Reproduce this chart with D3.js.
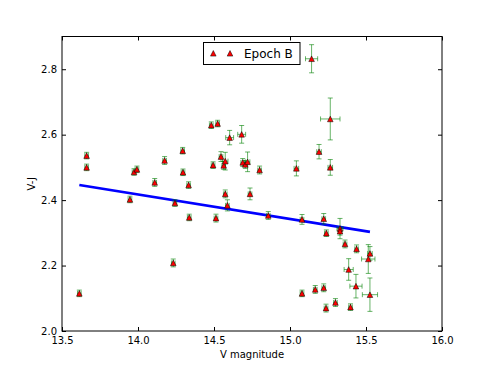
<!DOCTYPE html>
<html>
<head>
<meta charset="utf-8">
<script src="https://cdn.jsdelivr.net/npm/d3@7"></script>
<style>
  body { margin: 0; background: #fff; }
  text { font-family: "DejaVu Sans", sans-serif; }
</style>
</head>
<body>
<div id="chart"></div>
<script>
// Width and height
var chart_width  = 491;
var chart_height = 368;

// Epoch B measurements
var vMag  = [13.614, 13.662, 13.662, 13.947, 13.974, 13.993, 14.110, 14.175, 14.232, 14.243,
             14.294, 14.296, 14.333, 14.337, 14.482, 14.524, 14.494, 14.513, 14.546, 14.564,
             14.574, 14.574, 14.588, 14.603, 14.682, 14.689, 14.706, 14.721, 14.737, 14.800,
             14.857, 15.042, 15.079, 15.079, 15.142, 15.166, 15.191, 15.222, 15.222, 15.239,
             15.237, 15.265, 15.265, 15.299, 15.329, 15.329, 15.362, 15.386, 15.398, 15.434,
             15.438, 15.515, 15.526, 15.526];
var vj    = [2.115, 2.536, 2.500, 2.402, 2.486, 2.494, 2.454, 2.521, 2.208, 2.391,
             2.551, 2.485, 2.446, 2.347, 2.629, 2.634, 2.507, 2.345, 2.533, 2.506,
             2.519, 2.419, 2.384, 2.591, 2.601, 2.515, 2.509, 2.517, 2.419, 2.492,
             2.353, 2.497, 2.341, 2.115, 2.832, 2.127, 2.548, 2.343, 2.132, 2.299,
             2.070, 2.648, 2.500, 2.087, 2.313, 2.305, 2.266, 2.188, 2.073, 2.137,
             2.251, 2.220, 2.237, 2.111];
var vErr  = [.012, .012, .012, .012, .012, .012, .012, .012, .012, .012,
             .012, .012, .012, .012, .012, .012, .012, .012, .012, .012,
             .018, .012, .012, .026, .026, .012, .012, .015, .012, .012,
             .012, .015, .012, .012, .040, .012, .015, .012, .012, .012,
             .012, .064, .015, .012, .020, .012, .012, .030, .012, .040,
             .012, .044, .015, .050];
var vjErr = [.010, .010, .010, .010, .010, .010, .012, .012, .012, .010,
             .010, .010, .010, .010, .010, .010, .010, .012, .015, .012,
             .027, .012, .017, .022, .027, .012, .012, .030, .018, .012,
             .012, .023, .015, .010, .043, .012, .022, .016, .012, .010,
             .012, .064, .024, .012, .031, .012, .012, .033, .010, .036,
             .012, .044, .021, .051];

// linear fit end points
var fitV  = [13.614, 15.526];
var fitVJ = [2.446, 2.303];

var xTicks = [13.5, 14.0, 14.5, 15.0, 15.5, 16.0];
var yTicks = [2.0, 2.2, 2.4, 2.6, 2.8];

var points = vMag.map(function(v, i){
    return {v: v, vj: vj[i], ev: vErr[i], evj: vjErr[i]};
});

var pLeft = 62, pRight = 442, pTop = 36.5, pBottom = 331;

var x = d3.scaleLinear().domain([13.5, 16.0]).range([pLeft, pRight]);
var y = d3.scaleLinear().domain([2.0, 2.9]).range([pBottom, pTop]);

var svg = d3.select("#chart")
    .append("svg")
    .attr("width", chart_width)
    .attr("height", chart_height);

// axes, ticks pointing inwards on all four sides
var fmt = d3.format(".1f");
function styleAxis(g){
    g.select(".domain").remove();
    g.selectAll("line").attr("stroke", "#000");
    g.selectAll("text").attr("fill", "#000").style("font-size", "10px");
}
svg.append("g").attr("transform", "translate(0," + pBottom + ")")
    .call(d3.axisBottom(x).tickValues(xTicks).tickFormat(fmt).tickSize(-4).tickPadding(6))
    .call(styleAxis);
svg.append("g").attr("transform", "translate(0," + pTop + ")")
    .call(d3.axisTop(x).tickValues(xTicks).tickFormat("").tickSize(-4))
    .call(styleAxis);
svg.append("g").attr("transform", "translate(" + pLeft + ",0)")
    .call(d3.axisLeft(y).tickValues(yTicks).tickFormat(fmt).tickSize(-4).tickPadding(5))
    .call(styleAxis);
svg.append("g").attr("transform", "translate(" + pRight + ",0)")
    .call(d3.axisRight(y).tickValues(yTicks).tickFormat("").tickSize(-4))
    .call(styleAxis);

svg.append("rect")
    .attr("x", pLeft).attr("y", pTop)
    .attr("width", pRight - pLeft).attr("height", pBottom - pTop)
    .attr("fill", "none").attr("stroke", "#000").attr("stroke-width", 1);

// fit line
svg.append("path")
    .datum(fitV.map(function(v, i){ return [v, fitVJ[i]]; }))
    .attr("d", d3.line().x(function(d){ return x(d[0]); }).y(function(d){ return y(d[1]); }))
    .attr("fill", "none")
    .attr("stroke", "#0000ff")
    .attr("stroke-width", 2.6);

// error bars
var cap = 2.5;
svg.append("g")
    .attr("stroke", "rgb(0,128,0)")
    .attr("stroke-opacity", 0.6)
    .attr("stroke-width", 1)
    .selectAll("path")
    .data(points)
    .enter()
    .append("path")
    .attr("fill", "none")
    .attr("d", function(d){
        var cx = x(d.v), cy = y(d.vj);
        var y0 = y(d.vj - d.evj), y1 = y(d.vj + d.evj);
        var x0 = x(d.v - d.ev), x1 = x(d.v + d.ev);
        return "M" + cx + "," + y0 + "V" + y1 +
               "M" + (cx - cap) + "," + y0 + "H" + (cx + cap) +
               "M" + (cx - cap) + "," + y1 + "H" + (cx + cap) +
               "M" + x0 + "," + cy + "H" + x1 +
               "M" + x0 + "," + (cy - cap) + "V" + (cy + cap) +
               "M" + x1 + "," + (cy - cap) + "V" + (cy + cap);
    });

// triangle markers
var tri = "M0,-2.8L2.8,2.8L-2.8,2.8Z";
svg.append("g")
    .selectAll("path")
    .data(points)
    .enter()
    .append("path")
    .attr("d", tri)
    .attr("transform", function(d){ return "translate(" + x(d.v) + "," + y(d.vj) + ")"; })
    .attr("fill", "#ff0000")
    .attr("stroke", "#000")
    .attr("stroke-width", 0.5);

// legend
var lg = svg.append("g");
lg.append("rect")
    .attr("x", 203.5).attr("y", 42.5)
    .attr("width", 96.5).attr("height", 22)
    .attr("fill", "#fff").attr("stroke", "#000").attr("stroke-width", 1);
[213.3, 230].forEach(function(px){
    lg.append("path")
        .attr("d", tri)
        .attr("transform", "translate(" + px + ",53.3)")
        .attr("fill", "#ff0000").attr("stroke", "#000").attr("stroke-width", 0.5);
});
lg.append("text")
    .attr("x", 244).attr("y", 57.5)
    .style("font-size", "12px")
    .text("Epoch B");

// axis labels
svg.append("text")
    .attr("x", (pLeft + pRight) / 2).attr("y", 358)
    .attr("text-anchor", "middle")
    .style("font-size", "10px")
    .text("V magnitude");
svg.append("text")
    .attr("transform", "translate(35," + ((pTop + pBottom) / 2) + ") rotate(-90)")
    .attr("text-anchor", "middle")
    .style("font-size", "10px")
    .text("V-J");
</script>
</body>
</html>
